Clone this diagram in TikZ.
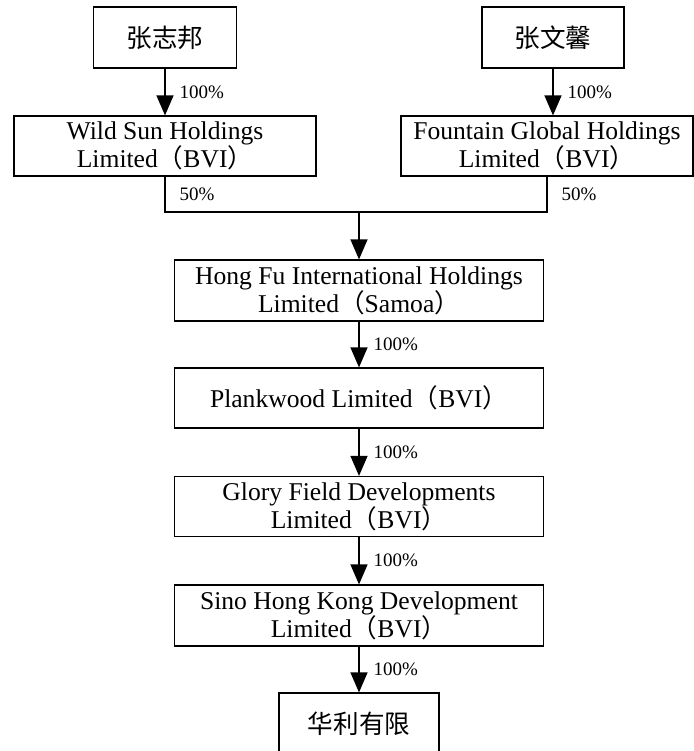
\documentclass[tikz,border=0pt]{standalone}
\usepackage{fontspec}
\setmainfont{Liberation Serif}
\newfontfamily\cjk{Noto Sans CJK SC}
\usetikzlibrary{arrows.meta}

% Paréntesis de ancho completo
\newcommand{\lpar}{{\cjk （}}
\newcommand{\rpar}{{\cjk ）}}

\tikzset{
  ent/.style={draw, line width=0.6pt, align=center, inner sep=0pt,
    font=\fontsize{12.8}{14}\selectfont},
  pct/.style={anchor=west, inner sep=0pt, xshift=7pt,
    font=\fontsize{9.5}{11}\selectfont},
  own/.style={-{Triangle[length=10pt,width=8.5pt]}, line width=0.6pt},
  link/.style={line width=0.6pt},
}

\begin{document}
\begin{tikzpicture}[x=0.5pt, y=-0.5pt]
  \useasboundingbox (0,0) rectangle (694,751);

  % Accionistas
  \node[ent, minimum width=71.5pt, minimum height=30.5pt] (zzb) at (165,37.5) {\cjk 张志邦};
  \node[ent, minimum width=71pt, minimum height=30.5pt] (zwx) at (553,37.5) {\cjk 张文馨};

  % Sociedades BVI
  \node[ent, minimum width=151pt, minimum height=30pt] (wild) at (165,146)
    {Wild Sun Holdings\\Limited\lpar BVI\rpar};
  \node[ent, minimum width=146pt, minimum height=30pt] (fount) at (547,146)
    {Fountain Global Holdings\\Limited\lpar BVI\rpar};

  % Cadena central
  \node[ent, minimum width=184.5pt, minimum height=30.5pt] (hongfu) at (359,290.5)
    {Hong Fu International Holdings\\Limited\lpar Samoa\rpar};
  \node[ent, minimum width=184.5pt, minimum height=30pt] (plank) at (359,398)
    {Plankwood Limited\lpar BVI\rpar};
  \node[ent, minimum width=184.5pt, minimum height=30pt] (glory) at (359,506.5)
    {Glory Field Developments\\Limited\lpar BVI\rpar};
  \node[ent, minimum width=184.5pt, minimum height=30.5pt] (sino) at (359,615.5)
    {Sino Hong Kong Development\\Limited\lpar BVI\rpar};
  \node[ent, minimum width=80pt, minimum height=31pt] (huali) at (359,724) {\cjk 华利有限};

  \coordinate (join) at (359,212);

  % Participaciones
  \draw[own] (zzb) -- node[pct] {100\%} (zzb |- wild.north);
  \draw[own] (zwx) -- node[pct] {100\%} (zwx |- fount.north);
  \draw[link] (wild.south) |- node[pct, pos=0.25] {50\%} (join);
  \draw[link] (fount.south) |- node[pct, pos=0.25] {50\%} (join);
  \draw[own] (join) -- (hongfu);
  \draw[own] (hongfu) -- node[pct] {100\%} (plank);
  \draw[own] (plank) -- node[pct] {100\%} (glory);
  \draw[own] (glory) -- node[pct] {100\%} (sino);
  \draw[own] (sino) -- node[pct] {100\%} (huali);
\end{tikzpicture}
\end{document}
